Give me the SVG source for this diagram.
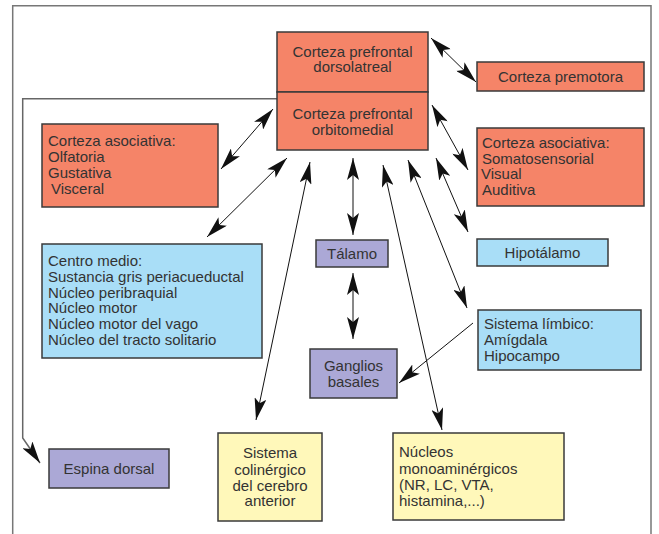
<svg xmlns="http://www.w3.org/2000/svg" width="659" height="534" viewBox="0 0 659 534">
<style>
.box{stroke:#3a3a3a;stroke-width:1.5}
.or{fill:#F58468}
.bl{fill:#A9DEF7}
.pu{fill:#ABA8D6}
.ye{fill:#FFF8BA}
text{font-family:"Liberation Sans",Arial,sans-serif;font-size:15px;fill:#333}
.c{text-anchor:middle}
.ln{stroke:#111;stroke-width:1;fill:none;marker-start:url(#ah);marker-end:url(#ah)}
.one{marker-start:none}
</style>
<defs>
<marker id="ah" viewBox="0 0 22 12" refX="22" refY="6" markerWidth="22" markerHeight="12" markerUnits="userSpaceOnUse" orient="auto-start-reverse">
<path d="M0,0 L22,6 L0,12 L5,6 Z" fill="#111"/>
</marker>
</defs>
<rect width="659" height="534" fill="#fff"/>
<path d="M12.7,534 V5.7 H651 V534" fill="none" stroke="#777" stroke-width="1.5"/>
<g id="connectors">
<path d="M277,98.7 H22.7 V438 L40,463" fill="none" stroke="#666" stroke-width="1.5" marker-end="url(#ah)"/>
<line class="ln" x1="431" y1="38" x2="476" y2="82"/>
<line class="ln" x1="273" y1="109" x2="221" y2="169"/>
<line class="ln" x1="287" y1="158" x2="207" y2="237"/>
<line class="ln" x1="310" y1="162" x2="256" y2="420"/>
<line class="ln" x1="353" y1="158" x2="353" y2="235"/>
<line class="ln" x1="383" y1="165" x2="442" y2="430"/>
<line class="ln" x1="408" y1="160" x2="467" y2="308"/>
<line class="ln" x1="436" y1="158" x2="468" y2="232"/>
<line class="ln" x1="432" y1="105" x2="468" y2="170"/>
<line class="ln" x1="353" y1="273" x2="353" y2="339"/>
<line class="ln one" x1="473" y1="323" x2="399" y2="383"/>
</g>
<g id="dorsolateral">
<rect class="box or" x="277" y="32" width="151" height="60"/>
<text class="c" x="352.5" y="56.5">Corteza prefrontal</text>
<text class="c" x="352.5" y="72">dorsolatreal</text>
</g>
<g id="orbitomedial">
<rect class="box or" x="277" y="92" width="151" height="58"/>
<text class="c" x="352.5" y="119">Corteza prefrontal</text>
<text class="c" x="352.5" y="135">orbitomedial</text>
</g>
<g id="premotora">
<rect class="box or" x="477" y="62" width="167" height="29"/>
<text class="c" x="560.5" y="81.5">Corteza premotora</text>
</g>
<g id="asociativa-izq">
<rect class="box or" x="42" y="124" width="176" height="83"/>
<text x="48" y="145.5">Corteza asociativa:</text>
<text x="48" y="161.5">Olfatoria</text>
<text x="48" y="177.5">Gustativa</text>
<text x="51" y="193.5">Visceral</text>
</g>
<g id="asociativa-der">
<rect class="box or" x="477" y="128" width="167" height="78"/>
<text x="482" y="147.5">Corteza asociativa:</text>
<text x="482" y="163.5">Somatosensorial</text>
<text x="481" y="179">Visual</text>
<text x="482" y="195">Auditiva</text>
</g>
<g id="centro-medio">
<rect class="box bl" x="42" y="244" width="220" height="114"/>
<text x="48" y="265.5">Centro medio:</text>
<text x="48" y="281.5">Sustancia gris periacueductal</text>
<text x="48" y="297.5">Núcleo peribraquial</text>
<text x="48" y="313">Núcleo motor</text>
<text x="48" y="329">Núcleo motor del vago</text>
<text x="48" y="345">Núcleo del tracto solitario</text>
</g>
<g id="talamo">
<rect class="box pu" x="316" y="240" width="72" height="27"/>
<text class="c" x="352" y="258.5">Tálamo</text>
</g>
<g id="hipotalamo">
<rect class="box bl" x="477" y="239" width="131" height="27"/>
<text class="c" x="542.5" y="258">Hipotálamo</text>
</g>
<g id="limbico">
<rect class="box bl" x="478" y="310" width="163" height="60"/>
<text x="484" y="328.5">Sistema límbico:</text>
<text x="484" y="344.5">Amígdala</text>
<text x="484" y="360.5">Hipocampo</text>
</g>
<g id="ganglios">
<rect class="box pu" x="310" y="349" width="87" height="49"/>
<text class="c" x="353.5" y="371">Ganglios</text>
<text class="c" x="353.5" y="386.5">basales</text>
</g>
<g id="espina">
<rect class="box pu" x="49" y="449" width="120" height="39"/>
<text class="c" x="109" y="473.5">Espina dorsal</text>
</g>
<g id="colinergico">
<rect class="box ye" x="218" y="433" width="104" height="88"/>
<text class="c" x="270" y="458">Sistema</text>
<text class="c" x="270" y="474.5">colinérgico</text>
<text class="c" x="270" y="490.5">del cerebro</text>
<text class="c" x="270" y="506">anterior</text>
</g>
<g id="monoaminergicos">
<rect class="box ye" x="393" y="433" width="171" height="87"/>
<text x="399" y="457">Núcleos</text>
<text x="399" y="473.5">monoaminérgicos</text>
<text x="399" y="490">(NR, LC, VTA,</text>
<text x="399" y="505.5">histamina,...)</text>
</g>
</svg>
